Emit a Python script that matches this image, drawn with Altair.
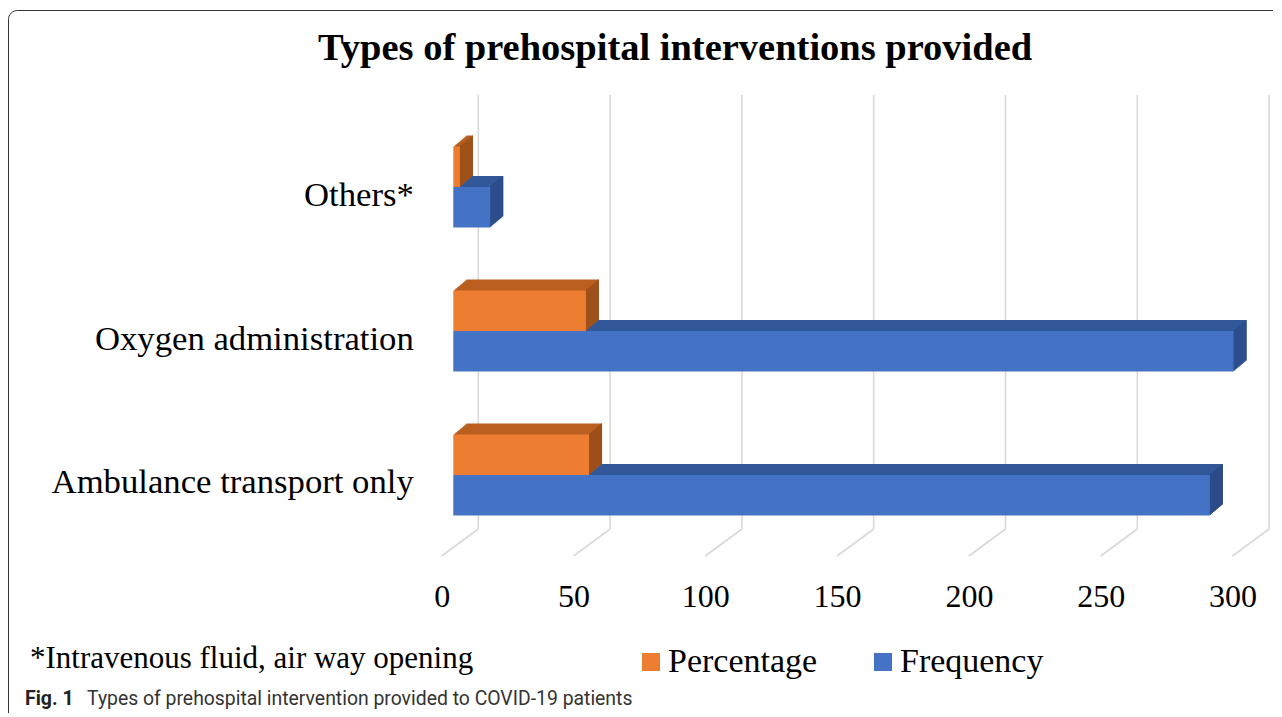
import altair as alt
import pandas as pd
import json

# ---------------- data ----------------
categories = ["Others*", "Oxygen administration", "Ambulance transport only"]
percentage = [2.5, 50.3, 51.5]
frequency = [14, 296, 287]
series = ["Percentage", "Frequency"]
x_ticks = [0, 50, 100, 150, 200, 250, 300]
chart_title = ["Types of prehospital interventions provided"]
footnote = ["*Intravenous fluid, air way opening"]
caption_label = ["Fig. 1"]
caption_text = ["Types of prehospital intervention provided to COVID-19 patients"]

# ---------------- styles / layout ----------------
ORANGE, ORANGE_TOP, ORANGE_SIDE = "#ED7D31", "#BA5F20", "#9C4F1B"
BLUE, BLUE_TOP, BLUE_SIDE = "#4472C4", "#33589A", "#2B4A85"
GRID = "#D9D9D9"
SERIF = "Liberation Serif"
SANS = "Liberation Sans Narrow, Roboto, sans-serif"

W, H = 790.8, 432
HALF = 0.28125           # bar thickness in category units
N = 13                   # depth steps for the 3-D look
SX, SY = 1.0, 11.0 / 13  # px per depth step
BACK_DX, FRONT_DX = 25, -11.6

rows = []
for ci, cat in enumerate(categories):
    rows.append(dict(category=cat, series="Frequency", start=0, value=frequency[ci],
                     y0=ci, y1=ci + HALF))
    rows.append(dict(category=cat, series="Percentage", start=0, value=percentage[ci],
                     y0=ci - HALF, y1=ci))
df = pd.DataFrame(rows)

xscale = alt.Scale(domain=[0, 300], nice=False, zero=True)
yscale = alt.Scale(domain=[-0.5, 2.5], reverse=True, nice=False, zero=False)

label_expr = json.dumps(categories) + "[datum.value]"
AX_X = alt.Axis(values=x_ticks, domain=False, ticks=False, grid=False,
                labelFont=SERIF, labelFontSize=32, labelColor="black",
                labelPadding=60, labelBaseline="alphabetic",
                labelOffset=FRONT_DX, labelFlush=False)
AX_Y = alt.Axis(values=[0, 1, 2], labelExpr=label_expr, domain=False,
                ticks=False, grid=False, labelFont=SERIF,
                labelFontSize=34.7, labelColor="black", labelPadding=40,
                labelOffset=8, labelLimit=0, labelBaseline="middle")


def X(field):
    return alt.X(field, scale=xscale, axis=AX_X, title=None)


def Y(field):
    return alt.Y(field, scale=yscale, axis=AX_Y, title=None)


base = alt.Chart(df)
is_pct = alt.datum.series == "Percentage"

layers = []

# frame around the figure
layers.append(
    alt.Chart(pd.DataFrame({"f": [0]})).mark_rect(
        fillOpacity=0, stroke="#333333", strokeWidth=1, cornerRadius=9
    ).encode(x=alt.value(-444.8), x2=alt.value(W + 200),
             y=alt.value(-104.5), y2=alt.value(H + 400))
)

tick_df = pd.DataFrame({"tick": x_ticks})
# back wall gridlines
layers.append(
    alt.Chart(tick_df).mark_rule(color=GRID, strokeWidth=1.6, xOffset=BACK_DX).encode(
        x=X("tick:Q"), y=alt.value(-20), y2=alt.value(414))
)
# floor lines
layers.append(
    alt.Chart(tick_df).mark_rule(color=GRID, strokeWidth=1.6,
                                 xOffset=BACK_DX, x2Offset=FRONT_DX).encode(
        x=X("tick:Q"), x2="tick:Q", y=alt.value(414), y2=alt.value(441))
)

# 3-D depth faces, drawn back to front
for i in range(N, 0, -1):
    ox, oy = i * SX, -i * SY
    layers.append(
        base.mark_rect(xOffset=ox, x2Offset=ox, yOffset=oy, y2Offset=oy).encode(
            x=X("start:Q"), x2="value:Q", y=Y("y0:Q"), y2="y1:Q",
            color=alt.condition(is_pct, alt.value(ORANGE_TOP), alt.value(BLUE_TOP)))
    )
    layers.append(
        base.mark_rect(xOffset=(i - 1) * SX, x2Offset=ox, yOffset=oy, y2Offset=oy).encode(
            x=X("value:Q"), x2="value:Q", y=Y("y0:Q"), y2="y1:Q",
            color=alt.condition(is_pct, alt.value(ORANGE_SIDE), alt.value(BLUE_SIDE)))
    )

# front faces with legend
layers.append(
    base.mark_rect().encode(
        x=X("start:Q"), x2="value:Q", y=Y("y0:Q"), y2="y1:Q",
        color=alt.Color("series:N", scale=alt.Scale(domain=series, range=[ORANGE, BLUE]),
                        legend=alt.Legend(orient="none", legendX=180.7, legendY=530,
                                          direction="horizontal", title=None,
                                          symbolType="square", symbolSize=324,
                                          symbolStrokeWidth=0, labelFont=SERIF,
                                          labelFontSize=34, labelColor="black",
                                          labelOffset=0, columnPadding=48, padding=0)),
    )
)

# texts
layers.append(
    alt.Chart(pd.DataFrame({"t": chart_title})).mark_text(
        font=SERIF, fontSize=38.5, fontWeight="bold", align="left",
        baseline="alphabetic", color="black").encode(
        text="t:N", x=alt.value(-135.3), y=alt.value(-55))
)
layers.append(
    alt.Chart(pd.DataFrame({"t": footnote})).mark_text(
        font=SERIF, fontSize=31, align="left", baseline="alphabetic",
        color="black").encode(text="t:N", x=alt.value(-423.3), y=alt.value(553))
)
layers.append(
    alt.Chart(pd.DataFrame({"t": caption_label})).mark_text(
        font=SANS, fontSize=19.5, fontWeight="bold", align="left",
        baseline="alphabetic", color="#222222").encode(
        text="t:N", x=alt.value(-428.3), y=alt.value(590.5))
)
layers.append(
    alt.Chart(pd.DataFrame({"t": caption_text})).mark_text(
        font=SANS, fontSize=19.4, align="left", baseline="alphabetic",
        color="#333333").encode(text="t:N", x=alt.value(-366.3), y=alt.value(590.5))
)

chart = alt.layer(*layers).properties(
    width=W, height=H,
    autosize=alt.AutoSizeParams(type="none"),
    padding={"left": 445.3, "top": 107, "right": 29, "bottom": 166},
    background="white",
).configure_view(stroke=None)

chart.save("out.html", embed_options={"renderer": "svg", "actions": False})
